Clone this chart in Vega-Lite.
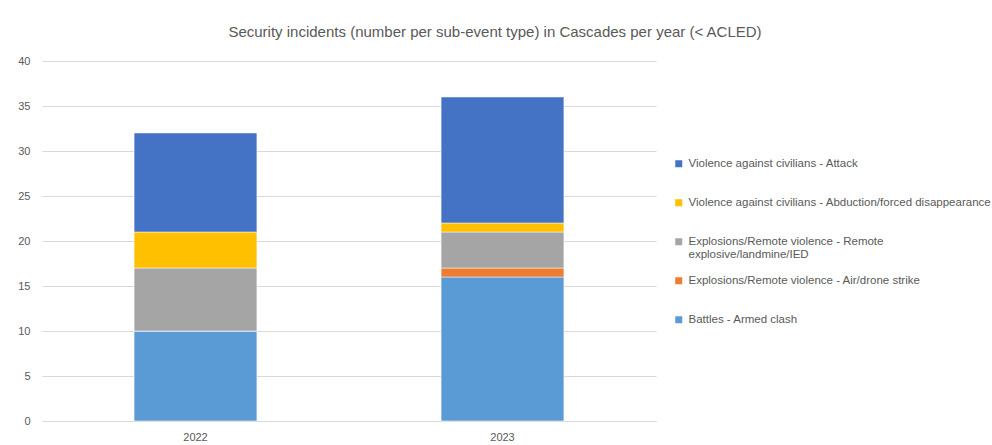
{
  "$schema": "https://vega.github.io/schema/vega-lite/v6.json",
  "width": 614,
  "height": 360,
  "autosize": {"type": "none"},
  "padding": {"left": 42, "top": 61, "right": 336, "bottom": 24},
  "background": "white",
  "title": {
    "text": "Security incidents (number per sub-event type) in Cascades per year (< ACLED)",
    "fontSize": 15,
    "font": "Liberation Sans",
    "fontWeight": "normal",
    "color": "#595959",
    "anchor": "middle",
    "dx": 146,
    "offset": 15
  },
  "data": {
    "values": [
      {"year": "2022", "type": "Battles - Armed clash", "count": 10},
      {"year": "2022", "type": "Explosions/Remote violence - Air/drone strike", "count": 0},
      {"year": "2022", "type": "Explosions/Remote violence - Remote explosive/landmine/IED", "count": 7},
      {"year": "2022", "type": "Violence against civilians - Abduction/forced disappearance", "count": 4},
      {"year": "2022", "type": "Violence against civilians - Attack", "count": 11},
      {"year": "2023", "type": "Battles - Armed clash", "count": 16},
      {"year": "2023", "type": "Explosions/Remote violence - Air/drone strike", "count": 1},
      {"year": "2023", "type": "Explosions/Remote violence - Remote explosive/landmine/IED", "count": 4},
      {"year": "2023", "type": "Violence against civilians - Abduction/forced disappearance", "count": 1},
      {"year": "2023", "type": "Violence against civilians - Attack", "count": 14}
    ]
  },
  "transform": [
    {"calculate": "indexof(['Battles - Armed clash','Explosions/Remote violence - Air/drone strike','Explosions/Remote violence - Remote explosive/landmine/IED','Violence against civilians - Abduction/forced disappearance','Violence against civilians - Attack'], datum.type)", "as": "ord"}
  ],
  "mark": {"type": "bar", "stroke": "white", "strokeWidth": 0.5},
  "encoding": {
    "x": {
      "field": "year",
      "type": "nominal",
      "scale": {"paddingInner": 0.6, "paddingOuter": 0.3},
      "axis": {
        "title": null,
        "labelAngle": 0,
        "labelColor": "#595959",
        "labelFontSize": 11,
        "labelFont": "Liberation Sans",
        "ticks": false,
        "domainColor": "#D9D9D9",
        "labelPadding": 10
      }
    },
    "y": {
      "field": "count",
      "type": "quantitative",
      "stack": "zero",
      "scale": {"domain": [0, 40]},
      "axis": {
        "title": null,
        "values": [0, 5, 10, 15, 20, 25, 30, 35, 40],
        "labelColor": "#595959",
        "labelFontSize": 11,
        "labelFont": "Liberation Sans",
        "ticks": false,
        "domain": false,
        "gridColor": "#D9D9D9",
        "labelPadding": 12
      }
    },
    "order": {"field": "ord", "type": "quantitative"},
    "color": {
      "field": "type",
      "type": "nominal",
      "scale": {
        "domain": [
          "Violence against civilians - Attack",
          "Violence against civilians - Abduction/forced disappearance",
          "Explosions/Remote violence - Remote explosive/landmine/IED",
          "Explosions/Remote violence - Air/drone strike",
          "Battles - Armed clash"
        ],
        "range": ["#4472C4", "#FFC000", "#A5A5A5", "#ED7D31", "#5B9BD5"]
      },
      "legend": {
        "title": null,
        "orient": "none",
        "legendX": 631,
        "legendY": 97,
        "symbolType": "square",
        "symbolSize": 49,
        "symbolStrokeWidth": 0,
        "labelColor": "#595959",
        "labelFontSize": 11.5,
        "labelFont": "Liberation Sans",
        "labelLimit": 400,
        "gridAlign": "all",
        "rowPadding": 13,
        "labelOffset": 4,
        "labelExpr": "datum.label == 'Explosions/Remote violence - Remote explosive/landmine/IED' ? ['Explosions/Remote violence - Remote', 'explosive/landmine/IED'] : datum.label"
      }
    }
  },
  "config": {"view": {"stroke": null}}
}
